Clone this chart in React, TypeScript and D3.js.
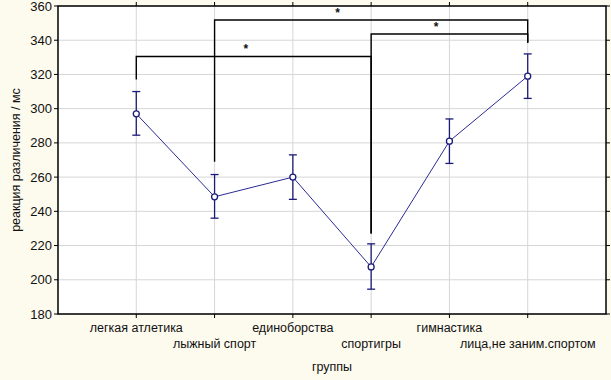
import React from "react";
import * as d3 from "d3";

const categories = ["легкая атлетика", "лыжный спорт", "единоборства", "спортигры", "гимнастика", "лица,не заним.спортом"];
const means = [297, 248.5, 260, 207.5, 281, 319];
const lower = [284.5, 236, 247, 194.5, 268, 306];
const upper = [310, 261.5, 273, 221, 294, 332];
const yTicks = [180, 200, 220, 240, 260, 280, 300, 320, 340, 360];
// significance brackets
const bracketFrom = [0, 1, 3];
const bracketTo = [3, 5, 5];
const bracketLevel = [330.5, 351.8, 343.6];
const bracketFromEnd = [317, 269, 227];
const bracketToEnd = [227, 338.5, 338.5];
const bracketLabel = ["*", "*", "*"];
const bracketLabelAt = [1.4, 2.57, 3.83];

const W = 611, H = 380;
const left = 58, right = 606, top = 6, bottom = 314;

export default function App() {
  const x = d3.scaleLinear().domain([-1, 6]).range([left, right]);
  const y = d3.scaleLinear().domain([180, 360]).range([bottom, top]);
  const line = d3.line<number>().x((_, i) => x(i)).y((d) => y(d));
  const navy = "#1c1c78";
  const font = "'Liberation Sans', Arial, sans-serif";
  return (
    <svg width={W} height={H} style={{ position: "absolute", left: 0, top: 0 }} fontFamily={font}>
      <rect x={0} y={0} width={W} height={H} fill="#fdfaee" />
      <rect x={left} y={top} width={right - left} height={bottom - top} fill="#ffffff" />
      {yTicks.map((t) => (
        <line key={"gy" + t} x1={left} x2={right} y1={y(t)} y2={y(t)} stroke="#d6d6d6" strokeWidth={1} />
      ))}
      {categories.map((c, i) => (
        <line key={"gx" + i} x1={x(i)} x2={x(i)} y1={top} y2={bottom} stroke="#d6d6d6" strokeWidth={1} />
      ))}
      {yTicks.map((t) => (
        <g key={"t" + t}>
          <line x1={left - 4} x2={left} y1={y(t)} y2={y(t)} stroke="#000" />
          <line x1={right} x2={right + 4} y1={y(t)} y2={y(t)} stroke="#000" />
          <text x={52} y={y(t)} dy="0.35em" textAnchor="end" fontSize={13} fill="#111">{t}</text>
        </g>
      ))}
      {categories.map((c, i) => (
        <g key={"c" + i}>
          <line x1={x(i)} x2={x(i)} y1={bottom} y2={bottom + 4} stroke="#000" />
          <line x1={x(i)} x2={x(i)} y1={top - 4} y2={top} stroke="#000" />
          <text x={x(i)} y={i % 2 === 0 ? 332 : 348} textAnchor="middle" fontSize={12.5} fill="#111">{c}</text>
        </g>
      ))}
      <rect x={left} y={top} width={right - left} height={bottom - top} fill="none" stroke="#000" strokeWidth={1.5} />
      {bracketFrom.map((f, k) => {
        const t = bracketTo[k];
        const yl = y(bracketLevel[k]);
        return (
          <g key={"b" + k}>
            <path
              d={`M${x(f)},${y(bracketFromEnd[k])}V${yl}H${x(t)}V${y(bracketToEnd[k])}`}
              fill="none"
              stroke="#000"
              strokeWidth={1.4}
            />
            <text x={x(bracketLabelAt[k])} y={yl - 3} textAnchor="middle" fontSize={12} fontWeight="bold" fill="#111">{bracketLabel[k]}</text>
          </g>
        );
      })}
      <path d={line(means) || ""} fill="none" stroke="#2b2b96" strokeWidth={1} />
      {means.map((m, i) => (
        <g key={"e" + i}>
          <line x1={x(i)} x2={x(i)} y1={y(lower[i])} y2={y(upper[i])} stroke={navy} strokeWidth={1.3} />
          <line x1={x(i) - 4} x2={x(i) + 4} y1={y(lower[i])} y2={y(lower[i])} stroke={navy} strokeWidth={1.3} />
          <line x1={x(i) - 4} x2={x(i) + 4} y1={y(upper[i])} y2={y(upper[i])} stroke={navy} strokeWidth={1.3} />
          <circle cx={x(i)} cy={y(m)} r={3} fill="#fff" stroke={navy} strokeWidth={1.3} />
        </g>
      ))}
      <text x={(left + right) / 2} y={371} textAnchor="middle" fontSize={12.5} fill="#111">группы</text>
      <text transform={`translate(20,${(top + bottom) / 2}) rotate(-90)`} textAnchor="middle" fontSize={12.5} fill="#111">реакция различения / мс</text>
    </svg>
  );
}
